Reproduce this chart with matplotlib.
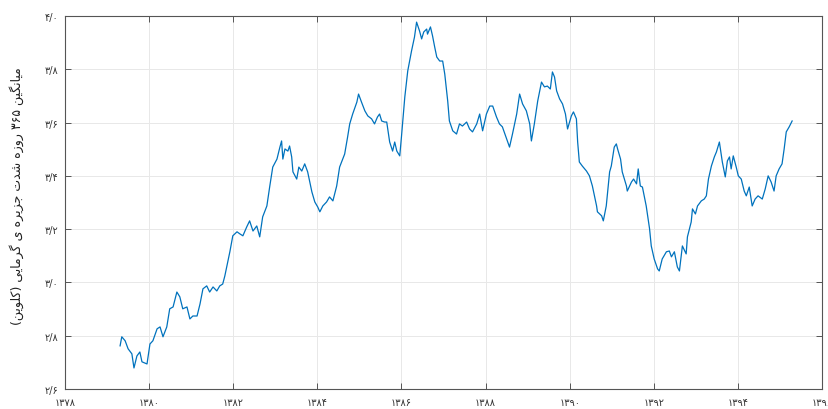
import matplotlib
matplotlib.use("Agg")
import matplotlib.pyplot as plt

# سال (شمسی) و میانگین ۳۶۵ روزه شدت جزیره گرمایی (کلوین) - خوانده شده از نمودار
years = [
    1379.31, 1379.35, 1379.43, 1379.50, 1379.59, 1379.64, 1379.71, 1379.78, 1379.83, 1379.95,
    1380.02, 1380.09, 1380.19, 1380.26, 1380.33, 1380.42, 1380.49, 1380.57, 1380.66, 1380.73,
    1380.80, 1380.90, 1380.97, 1381.04, 1381.14, 1381.21, 1381.28, 1381.37, 1381.44, 1381.52,
    1381.61, 1381.68, 1381.75, 1381.80, 1381.87, 1381.92, 1381.99, 1382.09, 1382.16, 1382.23,
    1382.32, 1382.39, 1382.47, 1382.56, 1382.63, 1382.70, 1382.80, 1382.87, 1382.94, 1383.04,
    1383.11, 1383.15, 1383.18, 1383.23, 1383.30, 1383.34, 1383.39, 1383.42, 1383.51, 1383.56,
    1383.63, 1383.70, 1383.77, 1383.87, 1383.94, 1384.01, 1384.06, 1384.13, 1384.22, 1384.29,
    1384.37, 1384.46, 1384.53, 1384.65, 1384.72, 1384.77, 1384.84, 1384.94, 1384.98, 1385.05,
    1385.13, 1385.20, 1385.29, 1385.36, 1385.43, 1385.48, 1385.53, 1385.60, 1385.65, 1385.72,
    1385.79, 1385.84, 1385.89, 1385.96, 1386.00, 1386.08, 1386.15, 1386.24, 1386.31, 1386.36,
    1386.43, 1386.48, 1386.53, 1386.60, 1386.62, 1386.69, 1386.74, 1386.79, 1386.84, 1386.91,
    1386.98, 1387.03, 1387.10, 1387.14, 1387.22, 1387.31, 1387.38, 1387.45, 1387.55, 1387.62,
    1387.69, 1387.79, 1387.86, 1387.93, 1388.02, 1388.10, 1388.17, 1388.26, 1388.33, 1388.40,
    1388.50, 1388.57, 1388.64, 1388.74, 1388.81, 1388.88, 1388.97, 1389.05, 1389.09, 1389.16,
    1389.24, 1389.33, 1389.40, 1389.47, 1389.54, 1389.59, 1389.64, 1389.69, 1389.76, 1389.83,
    1389.90, 1389.95, 1390.04, 1390.09, 1390.16, 1390.19, 1390.23, 1390.30, 1390.40, 1390.47,
    1390.54, 1390.64, 1390.66, 1390.76, 1390.80, 1390.87, 1390.95, 1390.99, 1391.06, 1391.11,
    1391.14, 1391.21, 1391.25, 1391.35, 1391.37, 1391.47, 1391.52, 1391.59, 1391.63, 1391.68,
    1391.73, 1391.82, 1391.90, 1391.94, 1392.01, 1392.09, 1392.13, 1392.20, 1392.30, 1392.37,
    1392.42, 1392.49, 1392.56, 1392.61, 1392.68, 1392.77, 1392.80, 1392.89, 1392.92, 1392.99,
    1393.04, 1393.13, 1393.20, 1393.25, 1393.30, 1393.37, 1393.44, 1393.49, 1393.56, 1393.63,
    1393.70, 1393.75, 1393.80, 1393.84, 1393.89, 1393.96, 1394.01, 1394.08, 1394.15, 1394.20,
    1394.27, 1394.34, 1394.41, 1394.48, 1394.58, 1394.65, 1394.72, 1394.79, 1394.86, 1394.91,
    1394.98, 1395.05, 1395.10, 1395.15, 1395.22, 1395.29,
]
uhi = [
    2.762, 2.796, 2.781, 2.751, 2.732, 2.679, 2.724, 2.739, 2.702, 2.694,
    2.769, 2.781, 2.826, 2.833, 2.796, 2.833, 2.901, 2.908, 2.964, 2.946,
    2.901, 2.908, 2.863, 2.874, 2.874, 2.919, 2.976, 2.987, 2.964, 2.983,
    2.968, 2.987, 2.994, 3.024, 3.077, 3.115, 3.175, 3.190, 3.182, 3.175,
    3.208, 3.231, 3.193, 3.212, 3.171, 3.246, 3.287, 3.362, 3.433, 3.463,
    3.508, 3.531, 3.463, 3.501, 3.493, 3.512, 3.471, 3.415, 3.388, 3.433,
    3.418, 3.445, 3.415, 3.340, 3.302, 3.283, 3.265, 3.287, 3.302, 3.321,
    3.306, 3.362, 3.433, 3.482, 3.546, 3.595, 3.632, 3.677, 3.707, 3.677,
    3.644, 3.625, 3.614, 3.595, 3.621, 3.632, 3.606, 3.602, 3.602, 3.527,
    3.493, 3.527, 3.493, 3.475, 3.546, 3.696, 3.794, 3.869, 3.921, 3.977,
    3.944, 3.914, 3.940, 3.951, 3.932, 3.959, 3.925, 3.884, 3.846, 3.831,
    3.831, 3.782, 3.681, 3.606, 3.569, 3.557, 3.595, 3.587, 3.602, 3.576,
    3.565, 3.595, 3.632, 3.569, 3.632, 3.662, 3.662, 3.621, 3.595, 3.584,
    3.539, 3.508, 3.557, 3.632, 3.707, 3.670, 3.644, 3.595, 3.531, 3.595,
    3.681, 3.752, 3.734, 3.737, 3.726, 3.790, 3.771, 3.719, 3.689, 3.670,
    3.632, 3.576, 3.625, 3.640, 3.614, 3.527, 3.452, 3.437, 3.418, 3.400,
    3.362, 3.287, 3.265, 3.250, 3.231, 3.287, 3.415, 3.437, 3.508, 3.520,
    3.501, 3.463, 3.415, 3.362, 3.343, 3.377, 3.388, 3.370, 3.426, 3.362,
    3.358, 3.287, 3.201, 3.137, 3.088, 3.051, 3.043, 3.088, 3.115, 3.118,
    3.096, 3.115, 3.058, 3.043, 3.137, 3.107, 3.171, 3.227, 3.276, 3.257,
    3.287, 3.306, 3.313, 3.325, 3.388, 3.437, 3.471, 3.490, 3.527, 3.452,
    3.396, 3.456, 3.471, 3.426, 3.475, 3.433, 3.400, 3.388, 3.343, 3.325,
    3.358, 3.287, 3.313, 3.325, 3.313, 3.351, 3.400, 3.377, 3.343, 3.400,
    3.426, 3.445, 3.501, 3.565, 3.584, 3.606,
]

xticks = [1378, 1380, 1382, 1384, 1386, 1388, 1390, 1392, 1394, 1396]
yticks = [2.6, 2.8, 3.0, 3.2, 3.4, 3.6, 3.8, 4.0]
ylabel = "میانگین ۳۶۵ روزه شدت جزیره ی گرمایی (کلوین)"

FA_DIGITS = "۰۱۲۳۴۵۶۷۸۹"

def fa_num(s):
    return "".join(FA_DIGITS[int(c)] if c.isdigit() else c for c in s)

# اشکال حروف: (تنها، پایانی، آغازی، میانی) - None یعنی به بعدی نمی‌چسبد
FORMS = {
    "ا": ("\uFE8D", "\uFE8E", None, None),
    "ت": ("\uFE95", "\uFE96", "\uFE97", "\uFE98"),
    "ج": ("\uFE9D", "\uFE9E", "\uFE9F", "\uFEA0"),
    "د": ("\uFEA9", "\uFEAA", None, None),
    "ر": ("\uFEAD", "\uFEAE", None, None),
    "ز": ("\uFEAF", "\uFEB0", None, None),
    "ش": ("\uFEB5", "\uFEB6", "\uFEB7", "\uFEB8"),
    "ل": ("\uFEDD", "\uFEDE", "\uFEDF", "\uFEE0"),
    "م": ("\uFEE1", "\uFEE2", "\uFEE3", "\uFEE4"),
    "ن": ("\uFEE5", "\uFEE6", "\uFEE7", "\uFEE8"),
    "ه": ("\uFEE9", "\uFEEA", "\uFEEB", "\uFEEC"),
    "و": ("\uFEED", "\uFEEE", None, None),
    "ی": ("\uFBFC", "\uFBFD", "\uFBFE", "\uFBFF"),
    "گ": ("\uFB92", "\uFB93", "\uFB94", "\uFB95"),
    "ک": ("\uFB8E", "\uFB8F", "\uFB90", "\uFB91"),
}

def shape_word(w):
    out = []
    for i, ch in enumerate(w):
        if ch not in FORMS:
            out.append(ch)
            continue
        prev = w[i - 1] if i > 0 else None
        nxt = w[i + 1] if i + 1 < len(w) else None
        jp = prev in FORMS and FORMS[prev][2] is not None
        jn = nxt in FORMS and FORMS[ch][2] is not None
        iso, fin, ini, med = FORMS[ch]
        out.append(med if jp and jn else fin if jp else ini if jn else iso)
    return "".join(out)

def rtl(text):
    words = []
    for w in text.split(" "):
        if all(c in FA_DIGITS for c in w):
            words.append(w)
        else:
            s = shape_word(w)[::-1]
            s = s.translate(str.maketrans("()", ")("))
            words.append(s)
    return " ".join(words[::-1])

fig = plt.figure(figsize=(8.29, 4.10), dpi=100)
ax = fig.add_axes([65 / 829, 20 / 410, 757 / 829, 373 / 410])

ax.plot(years, uhi, color="#0072BD", lw=0.9)

ax.set_xlim(1378, 1396)
ax.set_ylim(2.6, 4.0)
ax.set_xticks(xticks)
ax.set_yticks(yticks)
ax.set_xticklabels([fa_num(str(t)) for t in xticks])
ax.set_yticklabels([fa_num("%.1f" % t).replace(".", "/") for t in yticks])
ax.grid(True, color="#e8e8e8", lw=0.7)
ax.set_axisbelow(True)
ax.tick_params(direction="in", length=4, width=0.7, color="#555555",
               labelsize=7, labelcolor="#333333", top=True, right=True)
ax.tick_params(axis="y", pad=5)
ax.tick_params(axis="x", pad=6)
for s in ax.spines.values():
    s.set_color("#555555")
    s.set_linewidth(0.8)

ax.set_ylabel(rtl(ylabel), fontsize=9, family="DejaVu Sans", color="#222222")
ax.yaxis.set_label_coords(-0.054, 0.52)

fig.savefig("out.png", dpi=100)
